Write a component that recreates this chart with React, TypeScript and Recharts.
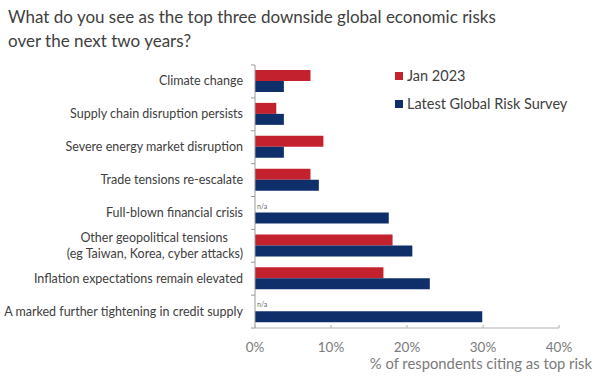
import { BarChart, Bar, XAxis, YAxis, LabelList } from 'recharts';

const categories = [
  'Climate change',
  'Supply chain disruption persists',
  'Severe energy market disruption',
  'Trade tensions re-escalate',
  'Full-blown financial crisis',
  'Other geopolitical tensions\n(eg Taiwan, Korea, cyber attacks)',
  'Inflation expectations remain elevated',
  'A marked further tightening in credit supply',
];
const jan2023: (number | null)[] = [7.3, 2.8, 9.0, 7.3, null, 18.1, 16.9, null];
const latestSurvey = [3.8, 3.8, 3.8, 8.4, 17.6, 20.7, 23.0, 29.9];
const xTicks = [0, 10, 20, 30, 40];

const RED = '#c4212f';
const BLUE = '#0f2f6b';
const FONT = 'Lato, "Open Sans", sans-serif';

const data = categories.map((name, i) => ({
  name,
  jan: jan2023[i],
  latest: latestSurvey[i],
}));

const TOP = 65;
const AXIS_H = 55;
const CHART_H = 383;
const BAND = (CHART_H - TOP - AXIS_H) / categories.length;

const YTick = (props: any) => {
  const { x, y, payload, index } = props;
  const lines = String(payload.value).split('\n');
  const ax = x + 12;
  return (
    <g>
      <line x1={ax - 4} x2={ax} y1={y - BAND / 2} y2={y - BAND / 2} stroke="#9a9a9a" />
      {index === categories.length - 1 && (
        <line x1={ax - 4} x2={ax} y1={y + BAND / 2} y2={y + BAND / 2} stroke="#9a9a9a" />
      )}
      {lines.length === 1 ? (
        <text x={x} y={y} dy={4} textAnchor="end" fill="#404040" fontSize={12.5} fontFamily={FONT}>
          {lines[0]}
        </text>
      ) : (
        <text textAnchor="end" fill="#404040" fontSize={12.5} fontFamily={FONT}>
          <tspan x={x - 15} y={y - 8} dy={4}>{lines[0]}</tspan>
          <tspan x={x} y={y + 8} dy={4}>{lines[1]}</tspan>
        </text>
      )}
    </g>
  );
};

const XTick = (props: any) => {
  const { x, y, payload } = props;
  const ay = y - 6;
  return (
    <g>
      <line x1={x} x2={x} y1={ay - 3} y2={ay} stroke="#b0b0b0" />
      <text x={x} y={y + 18} textAnchor="middle" fill="#7a7a7a" fontSize={13.5} fontFamily={FONT}>
        {`${payload.value}%`}
      </text>
    </g>
  );
};

const NaLabel = (props: any) => {
  const { x, y, index } = props;
  if (jan2023[index] != null) return null;
  return (
    <text x={x + 2} y={y - 4} fill="#666" fontSize={7} fontFamily={FONT}>
      n/a
    </text>
  );
};

export default function App() {
  return (
    <div style={{ position: 'absolute', left: 0, top: 0, width: 600, height: 383, background: '#fff', fontFamily: FONT }}>
      <div
        style={{
          position: 'absolute',
          left: 8,
          top: 5,
          fontSize: 17,
          lineHeight: '23.5px',
          color: '#404040',
        }}
      >
        What do you see as the top three downside global economic risks
        <br />
        over the next two years?
      </div>
      <div style={{ position: 'absolute', left: 395, top: 62, fontSize: 14.5, color: '#404040', lineHeight: '28px' }}>
        {[
          { label: 'Jan 2023', color: RED },
          { label: 'Latest Global Risk Survey', color: BLUE },
        ].map((l) => (
          <div key={l.label} style={{ display: 'flex', alignItems: 'center' }}>
            <span style={{ display: 'inline-block', width: 8, height: 8, background: l.color, marginRight: 4 }} />
            {l.label}
          </div>
        ))}
      </div>
      <div style={{ position: 'absolute', left: 0, top: 0 }}>
        <BarChart
          width={600}
          height={CHART_H}
          data={data}
          layout="vertical"
          margin={{ top: TOP, right: 41, left: 0, bottom: 0 }}
          barGap={0}
        >
          <XAxis
            type="number"
            domain={[0, 40]}
            ticks={xTicks}
            tickLine={false}
            tickSize={0}
            tickMargin={6}
            height={AXIS_H}
            stroke="#b0b0b0"
            tick={<XTick />}
            interval={0}
          />
          <YAxis
            type="category"
            dataKey="name"
            width={255}
            tickLine={false}
            tickSize={0}
            tickMargin={12}
            stroke="#9a9a9a"
            tick={<YTick />}
            interval={0}
          />
          <Bar dataKey="jan" fill={RED} barSize={11} isAnimationActive={false} />
          <Bar dataKey="latest" fill={BLUE} barSize={11} isAnimationActive={false}>
            <LabelList dataKey="latest" content={<NaLabel />} />
          </Bar>
        </BarChart>
      </div>
      <div style={{ position: 'absolute', right: 8, top: 354, fontSize: 14.8, color: '#7a7a7a' }}>
        % of respondents citing as top risk
      </div>
    </div>
  );
}
